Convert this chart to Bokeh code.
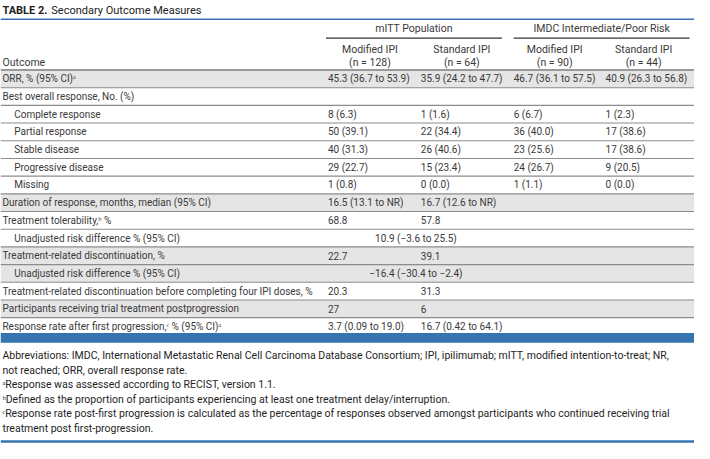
from bokeh.plotting import figure
from bokeh.models import ColumnDataSource, Range1d
from bokeh.core.properties import value
from bokeh.embed import file_html
from bokeh.resources import INLINE

# ---------------- data ----------------
title_bold = "TABLE 2."
title_rest = "Secondary Outcome Measures"
group_labels = ["mITT Population", "IMDC Intermediate/Poor Risk"]
arm_labels = ["Modified IPI", "Standard IPI", "Modified IPI", "Standard IPI"]
arm_n = ["(n = 128)", "(n = 64)", "(n = 90)", "(n = 44)"]
outcome_header = "Outcome"

row_labels = [
    "ORR, % (95% CI)\u1d43",
    "Best overall response, No. (%)",
    "Complete response",
    "Partial response",
    "Stable disease",
    "Progressive disease",
    "Missing",
    "Duration of response, months, median (95% CI)",
    "Treatment tolerability,\u1d47 %",
    "Unadjusted risk difference % (95% CI)",
    "Treatment-related discontinuation, %",
    "Unadjusted risk difference % (95% CI)",
    "Treatment-related discontinuation before completing four IPI doses, %",
    "Participants receiving trial treatment postprogression",
    "Response rate after first progression,\u1d9c % (95% CI)\u1d43",
]
row_indent = [0, 0, 1, 1, 1, 1, 1, 0, 0, 1, 0, 1, 0, 0, 0]
row_shaded = [1, 0, 0, 0, 0, 0, 0, 1, 0, 0, 1, 1, 0, 1, 0]

mitt_modified = ["45.3 (36.7 to 53.9)", "", "8 (6.3)", "50 (39.1)", "40 (31.3)", "29 (22.7)", "1 (0.8)",
                 "16.5 (13.1 to NR)", "68.8", "", "22.7", "", "20.3", "27", "3.7 (0.09 to 19.0)"]
mitt_standard = ["35.9 (24.2 to 47.7)", "", "1 (1.6)", "22 (34.4)", "26 (40.6)", "15 (23.4)", "0 (0.0)",
                 "16.7 (12.6 to NR)", "57.8", "", "39.1", "", "31.3", "6", "16.7 (0.42 to 64.1)"]
imdc_modified = ["46.7 (36.1 to 57.5)", "", "6 (6.7)", "36 (40.0)", "23 (25.6)", "24 (26.7)", "1 (1.1)",
                 "", "", "", "", "", "", "", ""]
imdc_standard = ["40.9 (26.3 to 56.8)", "", "1 (2.3)", "17 (38.6)", "17 (38.6)", "9 (20.5)", "0 (0.0)",
                 "", "", "", "", "", "", "", ""]
risk_difference = ["", "", "", "", "", "", "", "", "",
                   "10.9 (\u22123.6 to 25.5)", "", "\u221216.4 (\u221230.4 to \u22122.4)", "", "", ""]

footnotes = [
    "Abbreviations: IMDC, International Metastatic Renal Cell Carcinoma Database Consortium; IPI, ipilimumab; mITT, modified intention-to-treat; NR,",
    "not reached; ORR, overall response rate.",
    "\u1d43Response was assessed according to RECIST, version 1.1.",
    "\u1d47Defined as the proportion of participants experiencing at least one treatment delay/interruption.",
    "\u1d9cResponse rate post-first progression is calculated as the percentage of responses observed amongst participants who continued receiving trial",
    "treatment post first-progression.",
]

# ---------------- layout (reference pixel coordinates) ----------------
W, H = 710, 459
BLUE = "#3574b0"
FONT = value("Roboto")
TXT = "#3a3a3a"

p = figure(width=694, height=443, output_backend="svg", toolbar_location=None,
           x_range=Range1d(0, W), y_range=Range1d(H, 0), min_border=0)
p.axis.visible = False
p.grid.visible = False
p.outline_line_color = None
p.background_fill_color = "white"

row_top = 72.0
row_h = 18.33
n = len(row_labels)
tops = [row_top + i * row_h for i in range(n)]
centers = [t + row_h / 2 for t in tops]

# shaded rows
shade_src = ColumnDataSource(dict(
    top=[t for t, s in zip(tops, row_shaded) if s],
    bottom=[t + row_h for t, s in zip(tops, row_shaded) if s]))
p.quad(left=0, right=W, top="top", bottom="bottom", source=shade_src,
       fill_color="#e5e5e5", line_color=None)

# row separators
p.segment(x0=[0] * (n - 1), x1=[W] * (n - 1), y0=tops[1:], y1=tops[1:],
          line_color="#8c8c8c", line_width=1.1)
# header bottom line
p.segment(x0=[0], x1=[W], y0=[row_top], y1=[row_top], line_color="#9a9a9a", line_width=2)

# title
p.text(x=[2], y=[10], text=[title_bold], text_font=FONT, text_font_style="bold",
       text_font_size="11px", text_color="#222222", text_baseline="middle")
p.text(x=[52], y=[10], text=[title_rest], text_font=FONT,
       text_font_size="11px", text_color="#222222", text_baseline="middle")
p.segment(x0=[0], x1=[W], y0=[19.5], y1=[19.5], line_color=BLUE, line_width=1.5)

# group headers
p.text(x=[423, 615], y=[29, 29], text=group_labels, text_font=FONT, text_font_size="10.5px",
       text_color=TXT, text_align="center", text_baseline="middle")
p.segment(x0=[333, 525], x1=[513, 705], y0=[39, 39], y1=[39, 39], line_color="#333333", line_width=1.2)

arm_x = [378, 472, 567, 658]
p.text(x=arm_x, y=[51] * 4, text=arm_labels, text_font=FONT, text_font_size="10.5px",
       text_color=TXT, text_align="center", text_baseline="middle")
p.text(x=arm_x, y=[64] * 4, text=arm_n, text_font=FONT, text_font_size="10.5px",
       text_color=TXT, text_align="center", text_baseline="middle")
p.text(x=[2], y=[64], text=[outcome_header], text_font=FONT, text_font_size="10.5px",
       text_color=TXT, text_baseline="middle")

# row labels
label_src = ColumnDataSource(dict(x=[2 + 12 * ind for ind in row_indent], y=centers, text=row_labels))
p.text(x="x", y="y", text="text", source=label_src, text_font=FONT, text_font_size="10px",
       text_color=TXT, text_baseline="middle")

# data columns
col_x = [335, 430, 525, 619]
for cx, col in zip(col_x, [mitt_modified, mitt_standard, imdc_modified, imdc_standard]):
    src = ColumnDataSource(dict(x=[cx] * n, y=centers, text=col))
    p.text(x="x", y="y", text="text", source=src, text_font=FONT, text_font_size="10px",
           text_color=TXT, text_baseline="middle")
rd_src = ColumnDataSource(dict(x=[425] * n, y=centers, text=risk_difference))
p.text(x="x", y="y", text="text", source=rd_src, text_font=FONT, text_font_size="10px",
       text_color=TXT, text_align="center", text_baseline="middle")

# blue band under table
p.quad(left=[0], right=[W], top=[344.5], bottom=[354.5], fill_color=BLUE, line_color=None)

# footnotes
fn_y = [368 + 15 * i for i in range(len(footnotes))]
p.text(x=[2] * len(footnotes), y=fn_y, text=footnotes, text_font=FONT, text_font_size="10.5px",
       text_color="#1e1e1e", text_baseline="middle")

p.segment(x0=[0], x1=[W], y0=[457], y1=[457], line_color=BLUE, line_width=2.5)

open("out.html", "w").write(file_html(p, INLINE))
